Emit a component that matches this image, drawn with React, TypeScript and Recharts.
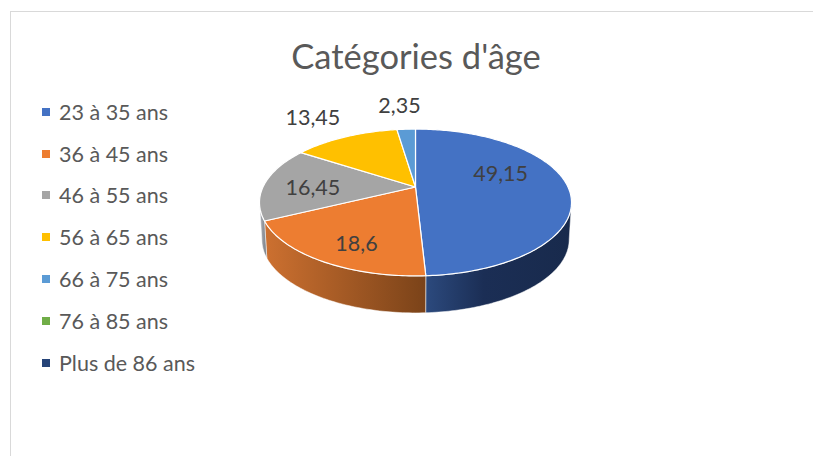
import { Legend, Pie, PieChart } from "recharts";

const CATEGORIES = [
  "23 à 35 ans",
  "36 à 45 ans",
  "46 à 55 ans",
  "56 à 65 ans",
  "66 à 75 ans",
  "76 à 85 ans",
  "Plus de 86 ans",
];
const VALUES = [49.15, 18.6, 16.45, 13.45, 2.35, 0, 0];
const LABELS = ["49,15", "18,6", "16,45", "13,45", "2,35", "", ""];
const COLORS = ["#4472C4", "#ED7D31", "#A5A5A5", "#FFC000", "#5B9BD5", "#70AD47", "#264478"];
const WALL_FILLS = ["url(#wallBlue)", "url(#wallOrange)", "url(#wallGray)", "#8a6a00", "#3a6a96", "#4a7530", "#16294a"];

const tableData = CATEGORIES.map((name, i) => ({
  name,
  value: VALUES[i],
  label: LABELS[i],
  fill: COLORS[i],
  wall: WALL_FILLS[i],
}));

const FONT = "Lato, sans-serif";

// perspective of the tilted disc
const TILT = 0.46;
const PERSPECTIVE = 0.211;
const DEPTH = 37;
const WALL_SHRINK = 0.985;
const VISIBLE_FROM = 102.2;
const VISIBLE_TO = 257.8;

// label nudges from the projected slice middle
const LABEL_NUDGE = [
  [-6, -13],
  [-7, 15],
  [-12, 2.5],
  [-58, -38],
  [-10, -45],
];

function project(cx: number, cy: number, radius: number, theta: number, scale = 1) {
  const rad = (theta * Math.PI) / 180;
  const w = 1 + PERSPECTIVE * scale * Math.cos(rad);
  return {
    x: cx + (radius * scale * Math.sin(rad)) / w,
    y: cy - (radius * TILT * scale * Math.cos(rad)) / w,
  };
}

function arcPoints(cx: number, cy: number, radius: number, from: number, to: number) {
  const points = [];
  const steps = Math.max(2, Math.ceil(to - from));
  for (let s = 0; s <= steps; s++) {
    points.push(project(cx, cy, radius, from + ((to - from) * s) / steps));
  }
  return points;
}

function toPath(points: { x: number; y: number }[]) {
  return points.map((p, i) => `${i === 0 ? "M" : "L"}${p.x.toFixed(2)},${p.y.toFixed(2)}`).join(" ") + " Z";
}

function TopSlice(props: any) {
  const { cx, cy, outerRadius, startAngle, endAngle, fill } = props;
  if (Math.abs(endAngle - startAngle) < 0.01) return null;
  const points = [{ x: cx, y: cy }, ...arcPoints(cx, cy, outerRadius, 90 - startAngle, 90 - endAngle)];
  return <path d={toPath(points)} fill={fill} stroke="#fff" strokeWidth={1.2} strokeLinejoin="round" />;
}

function WallSlice(props: any) {
  const { cx, cy, outerRadius, startAngle, endAngle, payload } = props;
  const from = Math.max(90 - startAngle, VISIBLE_FROM);
  const to = Math.min(90 - endAngle, VISIBLE_TO);
  if (to - from <= 0) return null;
  const top = arcPoints(cx, cy, outerRadius, from, to);
  const bottom = top.map((p) => ({ x: cx + (p.x - cx) * WALL_SHRINK, y: p.y + DEPTH })).reverse();
  return <path d={toPath([...top, ...bottom])} fill={payload.wall} stroke="#fff" strokeWidth={0.5} />;
}

function renderLabel(props: any) {
  const { cx, cy, outerRadius, midAngle, index, payload } = props;
  if (!payload.label) return null;
  const p = project(cx, cy, outerRadius, 90 - midAngle, 0.6);
  const [dx, dy] = LABEL_NUDGE[index];
  return (
    <text
      x={p.x + dx}
      y={p.y + dy}
      textAnchor="middle"
      dominantBaseline="central"
      fontFamily={FONT}
      fontSize={21.5}
      fill="#404040"
    >
      {payload.label}
    </text>
  );
}

function LegendList({ payload }: any) {
  // both pies report their slices, keep one row per category
  const rows = CATEGORIES.map((name) => (payload ?? []).find((entry: any) => entry.value === name)).filter(Boolean);
  return (
    <div style={{ fontFamily: FONT, fontSize: 21.5, color: "#595959" }}>
      {rows.map((entry: any) => (
        <div key={entry.value} style={{ height: 41.8, display: "flex", alignItems: "center", whiteSpace: "nowrap" }}>
          <span style={{ width: 8, height: 8, background: entry.color, marginRight: 9 }} />
          {entry.value}
        </div>
      ))}
    </div>
  );
}

export default function App() {
  return (
    <div style={{ position: "absolute", left: 0, top: 0, width: 813, height: 456, overflow: "hidden", background: "#fff" }}>
      <div
        style={{
          position: "absolute",
          left: 10,
          top: 11,
          width: 803,
          height: 445,
          borderLeft: "1.5px solid #d9d9d9",
          borderTop: "1.5px solid #d9d9d9",
          boxSizing: "border-box",
        }}
      />
      <PieChart
        width={813}
        height={456}
        margin={{ top: 0, right: 0, bottom: 0, left: 0 }}
        style={{ position: "absolute", left: 0, top: 0 }}
      >
        <defs>
          <linearGradient id="wallBlue" gradientUnits="userSpaceOnUse" x1={425} y1={0} x2={572} y2={0}>
            <stop offset="0" stopColor="#2c4a7e" />
            <stop offset="0.4" stopColor="#1b2e55" />
            <stop offset="1" stopColor="#182a4c" />
          </linearGradient>
          <linearGradient id="wallOrange" gradientUnits="userSpaceOnUse" x1={266} y1={0} x2={425} y2={0}>
            <stop offset="0" stopColor="#cc7030" />
            <stop offset="1" stopColor="#7b4319" />
          </linearGradient>
          <linearGradient id="wallGray" gradientUnits="userSpaceOnUse" x1={260} y1={0} x2={268} y2={0}>
            <stop offset="0" stopColor="#a9adb3" />
            <stop offset="1" stopColor="#6f757d" />
          </linearGradient>
        </defs>
        <text x={416} y={69} textAnchor="middle" fontFamily={FONT} fontSize={34.5} fill="#595959">
          Catégories d'âge
        </text>
        <Legend
          layout="vertical"
          align="center"
          verticalAlign="middle"
          width={200}
          wrapperStyle={{ left: 42, top: 91 }}
          content={<LegendList />}
        />
        <Pie
          data={tableData}
          dataKey="value"
          nameKey="name"
          cx={415.5}
          cy={187}
          outerRadius={152.5}
          startAngle={90}
          endAngle={-270}
          legendType="none"
          shape={WallSlice}
          label={false}
          labelLine={false}
          isAnimationActive={false}
        />
        <Pie
          data={tableData}
          dataKey="value"
          nameKey="name"
          cx={415.5}
          cy={187}
          outerRadius={152.5}
          startAngle={90}
          endAngle={-270}
          legendType="square"
          shape={TopSlice}
          label={renderLabel}
          labelLine={false}
          isAnimationActive={false}
        />
      </PieChart>
    </div>
  );
}
